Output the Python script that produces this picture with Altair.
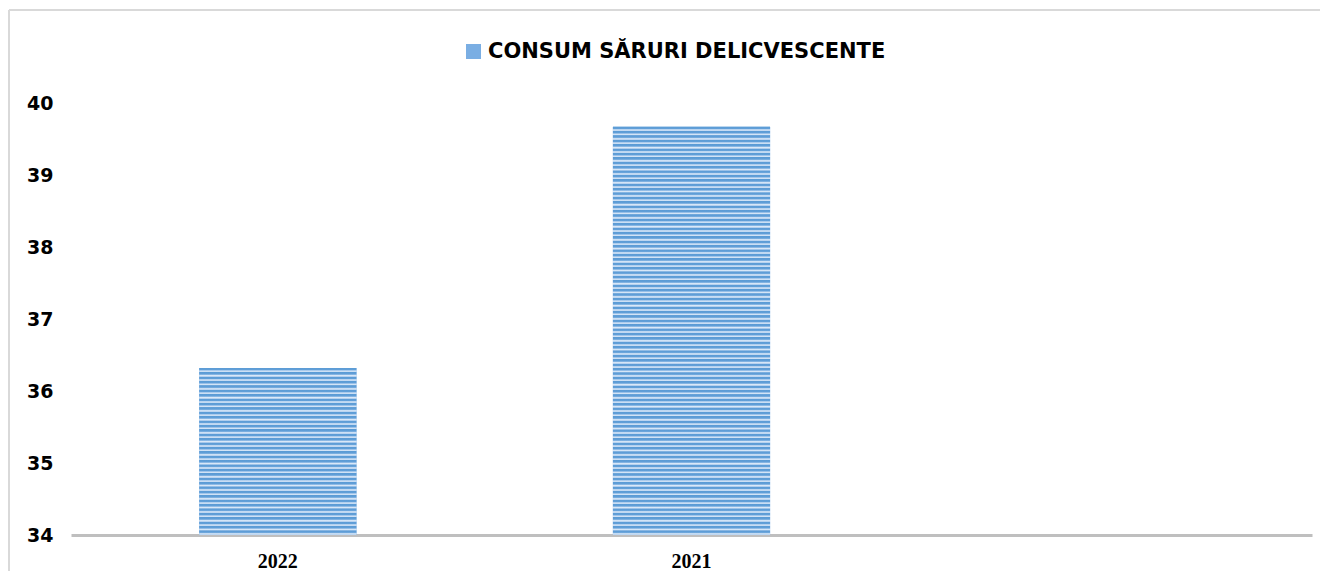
import altair as alt
import pandas as pd

# ---- data ----
years = ["2022", "2021"]
values = [36.32, 39.67]
slots = ["2022", "2021", ""]          # third (empty) category slot on the axis
series = "CONSUM SĂRURI DELICVESCENTE"
y_ticks = [34, 35, 36, 37, 38, 39, 40]

Y_MIN, Y_MAX = 34, 40
W, H = 1241, 432

df = pd.DataFrame({"year": years, "value": values, "series": [series] * len(years)})


def stripes(v):
    h = (v - Y_MIN) / (Y_MAX - Y_MIN) * H
    n = max(1, round(h / 4.4))
    s = 1.0 / n
    stops = []
    for k in range(n):
        b = k * s
        stops += [
            {"offset": b, "color": "#5b9bd5"},
            {"offset": b + 0.40 * s, "color": "#619fd8"},
            {"offset": b + 0.55 * s, "color": "#9fc4ea"},
            {"offset": b + 0.72 * s, "color": "#dbe9f8"},
            {"offset": b + 0.95 * s, "color": "#b4d0ef"},
        ]
    return alt.Gradient(gradient="linear", stops=stops, x1=0, x2=0, y1=0, y2=1)


x_enc = alt.X(
    "year:N",
    sort=slots,
    scale=alt.Scale(domain=slots, paddingInner=0.62, paddingOuter=0.31),
    axis=alt.Axis(
        title=None, labelAngle=0, labelFont="Liberation Serif", labelFontWeight="bold",
        labelFontSize=20, labelColor="#000000", ticks=False, domainColor="#bfbfbf",
        domainWidth=3, labelPadding=16,
    ),
)
y_enc = alt.Y(
    "value:Q",
    scale=alt.Scale(domain=[Y_MIN, Y_MAX], zero=False, nice=False),
    axis=alt.Axis(
        title=None, values=y_ticks, grid=False, domain=False, ticks=False,
        labelFont="DejaVu Sans", labelFontWeight="bold", labelFontSize=19,
        labelColor="#000000", labelPadding=18,
    ),
)

base = alt.Chart(df).mark_bar().encode(
    x=x_enc,
    y=y_enc,
    y2=alt.datum(Y_MIN),
    color=alt.Color(
        "series:N",
        scale=alt.Scale(range=["#7aaee3"]),
        legend=alt.Legend(
            title=None, orient="none", legendX=392, legendY=-62, symbolType="square",
            symbolSize=225, symbolStrokeWidth=0, labelFont="DejaVu Sans",
            labelFontWeight="bold", labelFontSize=21, labelColor="#000000", labelOffset=4,
            labelLimit=0,
        ),
    ),
)

striped = []
for yr, v in zip(years, values):
    striped.append(
        alt.Chart(df).transform_filter(alt.datum.year == yr).mark_bar(fill=stripes(v)).encode(
            x=x_enc, y=y_enc, y2=alt.datum(Y_MIN)
        )
    )

one = alt.Data(values=[{"f": 0}])
frame_top = alt.Chart(one).mark_rule(color="#d9d9d9", strokeWidth=2, clip=False).encode(
    x=alt.value(-62), x2=alt.value(W + 8), y=alt.value(-93)
)
frame_left = alt.Chart(one).mark_rule(color="#d9d9d9", strokeWidth=2, clip=False).encode(
    x=alt.value(-62), y=alt.value(-93), y2=alt.value(H + 36)
)

chart = alt.layer(frame_top, frame_left, base, *striped).properties(
    width=W,
    height=H,
    autosize=alt.AutoSizeParams(type="none"),
    padding={"left": 63, "top": 95, "right": 8, "bottom": 36},
).configure_view(strokeWidth=0, stroke="transparent")

chart.save("out.html", embed_options={"renderer": "svg", "actions": False})
